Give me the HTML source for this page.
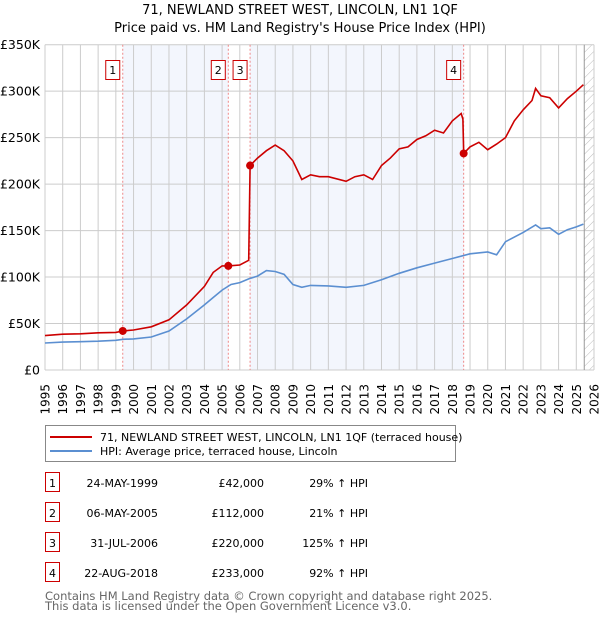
<!DOCTYPE html>
<html><head><meta charset="utf-8"><style>
body{margin:0;background:#fff;}
svg{display:block;font-family:"DejaVu Sans","Liberation Sans",sans-serif;}
</style></head><body>
<svg id="c" width="600" height="620" viewBox="0 0 600 620" xmlns="http://www.w3.org/2000/svg">
<text x="300" y="14" text-anchor="middle" font-size="13">71, NEWLAND STREET WEST, LINCOLN, LN1 1QF</text>
<text x="300" y="32" text-anchor="middle" font-size="13">Price paid vs. HM Land Registry's House Price Index (HPI)</text>
<g id="plot"></g>
<g>
<rect x="45.5" y="425.5" width="410" height="36" fill="#fff" stroke="#888"/>
<line x1="50" y1="437" x2="92" y2="437" stroke="#cc0000" stroke-width="2"/>
<text x="100" y="441" font-size="11">71, NEWLAND STREET WEST, LINCOLN, LN1 1QF (terraced house)</text>
<line x1="50" y1="451" x2="92" y2="451" stroke="#5b8fd1" stroke-width="2"/>
<text x="100" y="455" font-size="11">HPI: Average price, terraced house, Lincoln</text>
</g>
<g id="tbl" font-size="11"></g>
<text x="45" y="600" font-size="11.5" fill="#666">Contains HM Land Registry data © Crown copyright and database right 2025.</text>
<text x="45" y="610" font-size="11.5" fill="#666">This data is licensed under the Open Government Licence v3.0.</text>
</svg>
<script>
const years=[1995,1996,1997,1998,1999,2000,2001,2002,2003,2004,2005,2006,2007,2008,2009,2010,2011,2012,2013,2014,2015,2016,2017,2018,2019,2020,2021,2022,2023,2024,2025,2026];
const yTicks=[0,50,100,150,200,250,300,350];
const yTickLabels=["£0","£50K","£100K","£150K","£200K","£250K","£300K","£350K"];
const hpiT=[1995,1996,1997,1998,1999,1999.4,2000,2001,2002,2003,2004,2004.5,2005,2005.5,2006,2006.5,2007,2007.5,2008,2008.5,2009,2009.5,2010,2011,2012,2013,2014,2015,2016,2017,2018,2019,2020,2020.5,2021,2022,2022.7,2023,2023.5,2024,2024.5,2025,2025.4];
const hpiV=[29,30,30.5,31,32,33,33.5,35.5,42,55,70,78,86,92,94,98,101,107,106,103,92,89,91,90.5,89,91,97,104,110,115,120,125,127,124,138,148,156,152,153,146,151,154,157];
const redT=[1995,1996,1997,1998,1999,1999.4,2000,2001,2002,2003,2004,2004.5,2005,2005.35,2006,2006.5,2006.58,2007,2007.5,2008,2008.5,2009,2009.5,2010,2010.5,2011,2012,2012.5,2013,2013.5,2014,2014.5,2015,2015.5,2016,2016.5,2017,2017.5,2018,2018.5,2018.6,2018.64,2019,2019.5,2020,2020.5,2021,2021.5,2022,2022.5,2022.7,2023,2023.5,2024,2024.5,2025,2025.4];
const redV=[37,38.5,39,40,40.5,42,43,46.5,54,70,90,105,112,112,113,118,220,228,236,242,236,225,205,210,208,208,203,208,210,205,220,228,238,240,248,252,258,255,268,276,270,233,240,245,237,243,250,268,280,290,303,295,293,282,292,300,307];
const saleT=[1999.39,2005.35,2006.58,2018.64];
const saleV=[42,112,220,233];
const saleLabels=["1","2","3","4"];
const saleDates=["24-MAY-1999","06-MAY-2005","31-JUL-2006","22-AUG-2018"];
const salePrices=["£42,000","£112,000","£220,000","£233,000"];
const saleHpi=["29% ↑ HPI","21% ↑ HPI","125% ↑ HPI","92% ↑ HPI"];

const X0=45,X1=594,Y0=370,Y1=44.7;
const xs=t=>X0+(t-1995)*(X1-X0)/31;
const ys=v=>Y0-v*(Y0-Y1)/350;
const NS="http://www.w3.org/2000/svg";
const plot=document.getElementById('plot');
function mk(tag,attrs,parent){const e=document.createElementNS(NS,tag);for(const k in attrs)e.setAttribute(k,attrs[k]);(parent||plot).appendChild(e);return e;}

let r=mk('rect',{x:xs(saleT[0]),y:Y1,width:xs(saleT[1])-xs(saleT[0]),height:Y0-Y1,fill:'#f3f6fd'});


r=mk('rect',{x:xs(saleT[2]),y:Y1,width:xs(saleT[3])-xs(saleT[2]),height:Y0-Y1,fill:'#f3f6fd'});


const defs=mk('defs',{});
const pat=mk('pattern',{id:'h',width:6,height:6,patternUnits:'userSpaceOnUse',patternTransform:'rotate(45)'},defs);
mk('line',{x1:0,y1:0,x2:0,y2:6,stroke:'#bbb','stroke-width':1},pat);
r=mk('rect',{x:xs(2025.45),y:Y1,width:X1-xs(2025.45),height:Y0-Y1,fill:'url(#h)'});


years.forEach(y=>{
 const l=mk('line',{x1:xs(y),x2:xs(y),y1:Y1,y2:Y0,stroke:'#ccc','stroke-width':1});
 
 
 const t=mk('text',{transform:`translate(${xs(y)+4.5},384) rotate(-90)`,'text-anchor':'end','font-size':12});
 t.textContent=y;
 
 
});
yTicks.forEach((v,i)=>{
 const l=mk('line',{x1:X0,x2:X1,y1:ys(v),y2:ys(v),stroke:'#ccc','stroke-width':1});
 
 
 const t=mk('text',{x:40,y:ys(v)+4.5,'text-anchor':'end','font-size':12.5});
 t.textContent=yTickLabels[i];
 
 
});
let ln=mk('line',{x1:xs(2025.45),x2:xs(2025.45),y1:Y1,y2:Y0,stroke:'#999','stroke-width':1});


saleT.forEach((t,i)=>{
 const l=mk('line',{x1:xs(t),x2:xs(t),y1:Y1,y2:Y0,stroke:'#e88','stroke-width':1,'stroke-dasharray':'2,2'});
 
 
 const g=mk('g',{});
 
 
 mk('rect',{x:xs(t)-17,y:60.5,width:14,height:19,fill:'#fff',stroke:'#c00'},g);
 const tx=mk('text',{x:xs(t)-10,y:74,'text-anchor':'middle','font-size':11},g);
 tx.textContent=saleLabels[i];
});
const path=(T,V)=>T.map((t,i)=>(i?'L':'M')+xs(t).toFixed(1)+','+ys(V[i]).toFixed(1)).join('');
let p=mk('path',{d:path(hpiT,hpiV),fill:'none',stroke:'#5b8fd1','stroke-width':1.6});


p=mk('path',{d:path(redT,redV),fill:'none',stroke:'#cc0000','stroke-width':1.6});


saleT.forEach((t,i)=>{
 const c=mk('circle',{cx:xs(t),cy:ys(saleV[i]),r:4,fill:'#cc0000'});
 
 
});
const tbl=document.getElementById('tbl');
saleLabels.forEach((lab,i)=>{
 const y=483+i*30;
 const g=mk('g',{},tbl);
 
 
 mk('rect',{x:45.5,y:y-10.5,width:14,height:19,fill:'#fff',stroke:'#c00'},g);
 let t=mk('text',{x:52.5,y:y+4,'text-anchor':'middle'},g);t.textContent=lab;
 t=mk('text',{x:158,y:y+4,'text-anchor':'end'},g);t.textContent=saleDates[i];
 t=mk('text',{x:264,y:y+4,'text-anchor':'end'},g);t.textContent=salePrices[i];
 t=mk('text',{x:368,y:y+4,'text-anchor':'end'},g);t.textContent=saleHpi[i];
});
</script>
</body></html>
